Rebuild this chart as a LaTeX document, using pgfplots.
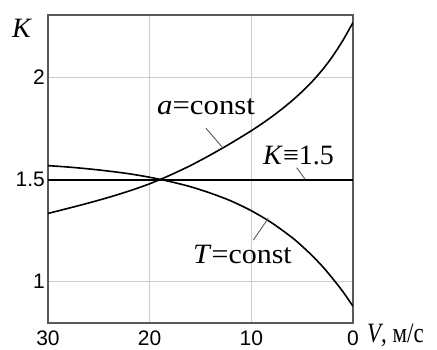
\documentclass[border=0pt]{standalone}
\usepackage{pgfplots}
\pgfplotsset{compat=1.18}
\usepackage{fontspec}
\setmainfont{Liberation Serif}
\newfontfamily\tickfont{Liberation Sans}
\begin{document}
\begin{tikzpicture}
\begin{axis}[
  scale only axis, width=305pt, height=308pt,
  xmin=0, xmax=30, x dir=reverse,
  ymin=0.798, ymax=2.307,
  xtick={0,10,20,30}, xticklabels={0,10,20,30},
  ytick={1,1.5,2}, yticklabels={1,1.5,2},
  major tick length=0pt,
  grid=major, grid style={draw=black!20, line width=0.8pt},
  axis line style={draw=black!65, line width=1.6pt},
  tick label style={font=\fontsize{21}{23}\tickfont},
  xticklabel style={inner sep=0pt, yshift=-8pt},
  yticklabel style={inner sep=1pt, xshift=-2pt},
  /pgf/number format/assume math mode=true,
]
% a = const
\addplot[black, line width=1.6pt, smooth] coordinates {
 (0,2.27) (1,2.182) (2,2.105) (3,2.039) (4,1.982) (5,1.932) (6,1.887) (7,1.846)
 (8,1.808) (9,1.773) (10,1.740) (12,1.679) (14,1.622) (16,1.569) (18,1.522)
 (20,1.480) (22,1.445) (24,1.414) (26,1.386) (28,1.360) (30,1.335)};
% T = const
\addplot[black, line width=1.6pt, smooth] coordinates {
 (0,0.88) (1,0.952) (2,1.016) (3,1.075) (4,1.127) (5,1.174) (6,1.217) (8,1.289)
 (10,1.348) (12,1.396) (14,1.434) (16,1.466) (18,1.491) (20,1.512) (22,1.529)
 (24,1.542) (26,1.553) (28,1.562) (30,1.569)};
% K = 1.5
\addplot[black, line width=1.6pt] coordinates {(0,1.5) (30,1.5)};

\node[anchor=base west, inner sep=0pt, font=\fontsize{28}{30}\selectfont] at (axis cs:19.28,1.821) {\scalebox{1.1}[1]{\textit{a}=const}};
\node[anchor=base west, inner sep=0pt, font=\fontsize{28}{30}\selectfont] at (axis cs:8.85,1.575) {\textit{K}≡1.5};
\node[anchor=base west, inner sep=0pt, font=\fontsize{28}{30}\selectfont] at (axis cs:15.74,1.090) {\scalebox{1.07}[1]{\textit{T}=const}};
\draw[black!65, line width=0.9pt] (axis cs:14.46,1.752) -- (axis cs:12.82,1.657);
\draw[black!65, line width=0.9pt] (axis cs:5.54,1.559) -- (axis cs:4.72,1.503);
\draw[black!65, line width=0.9pt] (axis cs:9.81,1.204) -- (axis cs:8.33,1.311);
\end{axis}
\node[anchor=base west, inner sep=0pt, font=\fontsize{28}{30}\selectfont] at ([xshift=-36pt,yshift=-23pt]current axis.north west) {\textit{K}};
\node[anchor=base west, inner sep=0pt, font=\fontsize{28}{30}\selectfont] at ([xshift=14pt,yshift=-20pt]current axis.south east) {\scalebox{0.82}[1]{\textit{V}, м/с}};
\pgfresetboundingbox
\path ([xshift=-48pt,yshift=-27pt]current axis.south west) rectangle ([xshift=84pt,yshift=15pt]current axis.north east);
\end{tikzpicture}
\end{document}
